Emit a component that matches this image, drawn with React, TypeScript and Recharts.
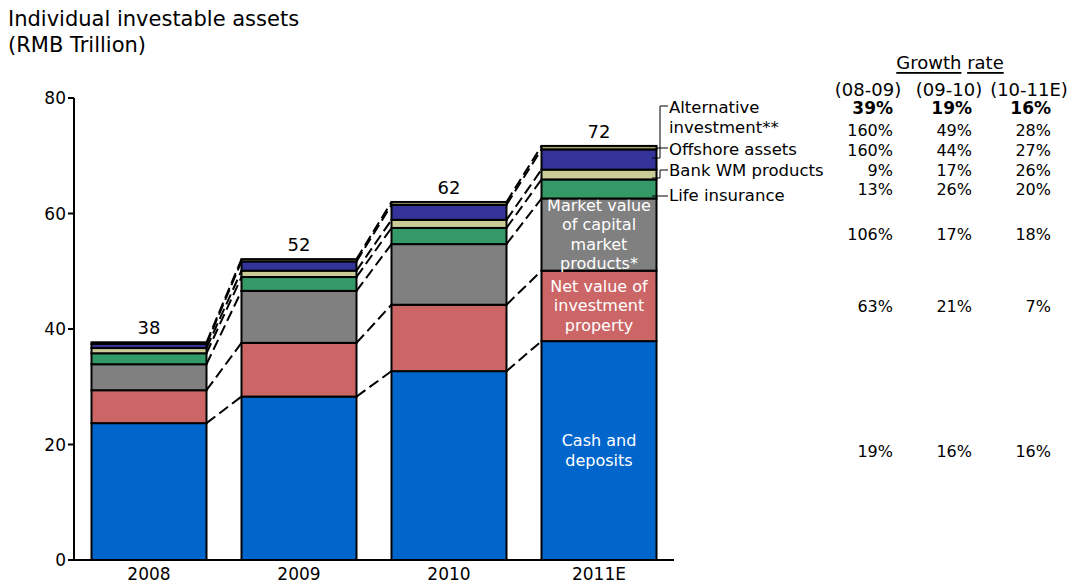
import React from "react";
import { BarChart, Bar, XAxis, YAxis, LabelList } from "recharts";

// values (RMB trillion)
const years = ["2008", "2009", "2010", "2011E"];
const cash = [23.7, 28.3, 32.7, 37.9];
const property = [5.7, 9.3, 11.5, 12.2];
const capital = [4.5, 9.0, 10.5, 12.5];
const life = [1.9, 2.4, 2.8, 3.3];
const bankWM = [0.9, 1.1, 1.4, 1.7];
const offshore = [0.7, 1.6, 2.6, 3.5];
const alternative = [0.3, 0.4, 0.5, 0.6];
const totals = [38, 52, 62, 72];

const yTicks = [0, 20, 40, 60, 80];

// growth table
const periods = ["(08-09)", "(09-10)", "(10-11E)"];
const growthTotal = ["39%", "19%", "16%"];
const growthAlternative = ["160%", "49%", "28%"];
const growthOffshore = ["160%", "44%", "27%"];
const growthBankWM = ["9%", "17%", "26%"];
const growthLife = ["13%", "26%", "20%"];
const growthCapital = ["106%", "17%", "18%"];
const growthProperty = ["63%", "21%", "7%"];
const growthCash = ["19%", "16%", "16%"];

const series = [
  { key: "cash", values: cash, color: "#0066CC", inner: ["Cash and", "deposits"] },
  { key: "property", values: property, color: "#CC6666", inner: ["Net value of", "investment", "property"] },
  { key: "capital", values: capital, color: "#808080", inner: ["Market value", "of capital", "market", "products*"] },
  { key: "life", values: life, color: "#339966", inner: [] as string[] },
  { key: "bankWM", values: bankWM, color: "#CCCC99", inner: [] as string[] },
  { key: "offshore", values: offshore, color: "#333399", inner: [] as string[] },
  { key: "alternative", values: alternative, color: "#A3A36E", inner: [] as string[] },
];

const data = years.map((year, i) => {
  const row: Record<string, any> = { year, total: totals[i] };
  series.forEach((s) => (row[s.key] = s.values[i]));
  return row;
});

const FONT = "'DejaVu Sans', Verdana, sans-serif";
const GAP = 0.11667; // barCategoryGap as fraction of band

const cumulative = (k: number, i: number) =>
  series.slice(0, k + 1).reduce((acc, s) => acc + s.values[i], 0);

const makeShape = (k: number) => (props: any) => {
  const { x, y, width, height, index } = props;
  const s = series[k];
  const v = s.values[index];
  const pxPerUnit = v > 0 ? height / v : 0;
  const zeroY = y + height + (cumulative(k, index) - v) * pxPerUnit;
  const band = width / (1 - 2 * GAP);
  const hasNext = index < years.length - 1;
  const nextY = hasNext ? zeroY - cumulative(k, index + 1) * pxPerUnit : 0;
  const showInner = index === years.length - 1 && s.inner.length > 0;
  const lh = 19.5;
  return (
    <g>
      <rect x={x} y={y} width={width} height={height} fill={s.color} stroke="#000" strokeWidth={2} />
      {hasNext && (
        <line
          x1={x + width}
          y1={y}
          x2={x + band}
          y2={nextY}
          stroke="#000"
          strokeWidth={2}
          strokeDasharray="11 5"
        />
      )}
      {showInner &&
        s.inner.map((t, j) => (
          <text
            key={t}
            x={x + width / 2}
            y={y + height / 2 + (j - (s.inner.length - 1) / 2) * lh}
            textAnchor="middle"
            dominantBaseline="central"
            fill="#fff"
            fontSize={16}
            fontFamily={FONT}
          >
            {t}
          </text>
        ))}
    </g>
  );
};

const labelRows = [
  { text: "Alternative", y: 107 },
  { text: "investment**", y: 127 },
  { text: "Offshore assets", y: 149 },
  { text: "Bank WM products", y: 170 },
  { text: "Life insurance", y: 195 },
];

const growthRows = [
  { vals: growthTotal, y: 108, bold: true },
  { vals: growthAlternative, y: 130 },
  { vals: growthOffshore, y: 150 },
  { vals: growthBankWM, y: 170 },
  { vals: growthLife, y: 189 },
  { vals: growthCapital, y: 234 },
  { vals: growthProperty, y: 306 },
  { vals: growthCash, y: 451 },
];
const colRight = [893, 972, 1051];
const colCenter = [868, 949, 1029];

export default function App() {
  return (
    <div style={{ position: "absolute", left: 0, top: 0, width: 1073, height: 587, fontFamily: FONT, background: "#fff" }}>
      <BarChart
        width={1073}
        height={587}
        data={data}
        margin={{ top: 98, right: 399, bottom: 0, left: 24 }}
        barCategoryGap={`${GAP * 100}%`}
      >
        <XAxis
          dataKey="year"
          height={27}
          tickLine={false}
          axisLine={{ stroke: "#000", strokeWidth: 2 }}
          tick={{ fill: "#000", fontSize: 17 }}
        />
        <YAxis
          width={50}
          domain={[0, 80]}
          ticks={yTicks}
          tickSize={6}
          axisLine={{ stroke: "#000", strokeWidth: 2 }}
          tickLine={{ stroke: "#000", strokeWidth: 2 }}
          tick={{ fill: "#000", fontSize: 17 }}
        />
        {series.map((s, k) => (
          <Bar key={s.key} dataKey={s.key} stackId="a" fill={s.color} shape={makeShape(k)} isAnimationActive={false}>
            {k === series.length - 1 && (
              <LabelList dataKey="total" position="top" offset={8} fill="#000" fontSize={18} />
            )}
          </Bar>
        ))}
      </BarChart>

      <svg
        width={1073}
        height={587}
        style={{ position: "absolute", left: 0, top: 0, pointerEvents: "none" }}
        fontFamily={FONT}
      >
        <text x={8} y={19} fontSize={21} dominantBaseline="central" fill="#000">
          Individual investable assets
        </text>
        <text x={8} y={45} fontSize={21} dominantBaseline="central" fill="#000">
          (RMB Trillion)
        </text>

        {/* leader lines to the series names */}
        <g stroke="#000" strokeWidth={1} fill="none">
          <polyline points="652,158 660,158 660,106 668,106" />
          <polyline points="657,148 668,148" />
          <polyline points="652,178 660,178 660,170 668,170" />
          <polyline points="652,196 668,196" />
        </g>
        {labelRows.map((r) => (
          <text key={r.text} x={669} y={r.y} fontSize={16.5} dominantBaseline="central" fill="#000">
            {r.text}
          </text>
        ))}

        <text x={950} y={62} fontSize={18} textAnchor="middle" dominantBaseline="central" fill="#000">
          <tspan textDecoration="underline">Growth</tspan> <tspan textDecoration="underline">rate</tspan>
        </text>
        {periods.map((p, i) => (
          <text key={p} x={colCenter[i]} y={89} fontSize={18} textAnchor="middle" dominantBaseline="central" fill="#000">
            {p}
          </text>
        ))}
        {growthRows.map((r, ri) =>
          r.vals.map((v, i) => (
            <text
              key={`${ri}-${i}`}
              x={colRight[i]}
              y={r.y}
              fontSize={r.bold ? 17 : 16}
              fontWeight={r.bold ? "bold" : "normal"}
              textAnchor="end"
              dominantBaseline="central"
              fill="#000"
            >
              {v}
            </text>
          ))
        )}
      </svg>
    </div>
  );
}
